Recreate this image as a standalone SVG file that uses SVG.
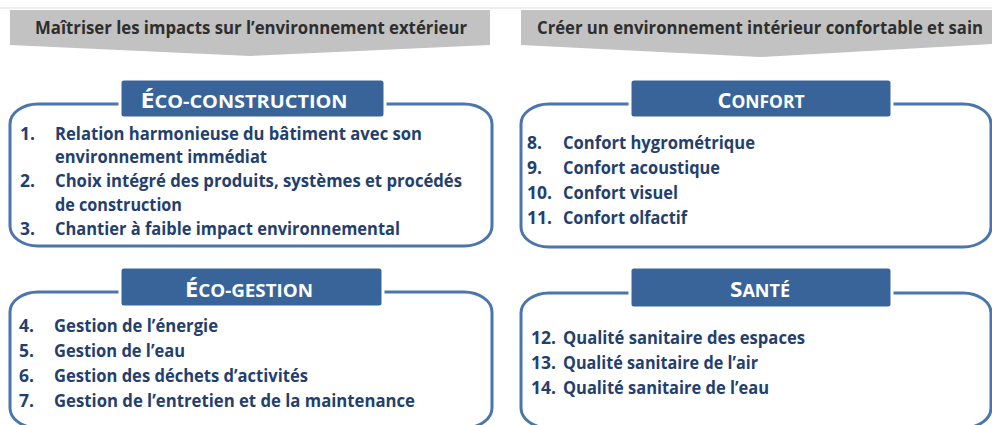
<svg xmlns="http://www.w3.org/2000/svg" width="992" height="425" viewBox="0 0 992 425">
<style>
.banner{fill:#c2c2c2}
.btxt{font-family:"Open Sans","Liberation Sans",sans-serif;font-weight:700;font-size:17px;fill:#2e2e2e}
.box{fill:#ffffff;stroke:#4a75ad;stroke-width:3}
.tbox{fill:#38649a;stroke:#ffffff;stroke-width:3}
.ttl{font-family:"Open Sans","Liberation Sans",sans-serif;font-weight:700;fill:#ffffff;text-anchor:middle}
.big{font-size:22px}
.sm{font-size:17.5px}
.it{font-family:"Open Sans","Liberation Sans",sans-serif;font-weight:700;font-size:17.5px;fill:#243f6e}
</style>
<rect x="0" y="0" width="992" height="425" fill="#ffffff"/>
<rect x="0" y="7" width="992" height="2" fill="#efefef"/>

<g id="banner-exterieur">
<polygon class="banner" points="10,10 490,10 490,45 250,56 10,45"/>
<text class="btxt" x="35" y="34" textLength="432" lengthAdjust="spacingAndGlyphs">Maîtriser les impacts sur l’environnement extérieur</text>
</g>

<g id="banner-interieur">
<polygon class="banner" points="521,10 992,10 992,44 760,57 521,45"/>
<text class="btxt" x="537" y="34" textLength="446" lengthAdjust="spacingAndGlyphs">Créer un environnement intérieur confortable et sain</text>
</g>

<g id="eco-construction">
<rect class="box" x="10" y="104" width="482" height="142" rx="28" ry="20"/>
<rect class="tbox" x="120" y="79" width="265" height="39" rx="4"/>
<text class="ttl" x="244" y="108" textLength="207" lengthAdjust="spacingAndGlyphs"><tspan class="big">É</tspan><tspan class="sm">CO-CONSTRUCTION</tspan></text>
<text class="it" x="20" y="140">1.</text>
<text class="it" x="55" y="140" textLength="367" lengthAdjust="spacingAndGlyphs">Relation harmonieuse du bâtiment avec son</text>
<text class="it" x="55" y="163" textLength="212" lengthAdjust="spacingAndGlyphs">environnement immédiat</text>
<text class="it" x="20" y="187">2.</text>
<text class="it" x="55" y="187" textLength="407" lengthAdjust="spacingAndGlyphs">Choix intégré des produits, systèmes et procédés</text>
<text class="it" x="55" y="211" textLength="127" lengthAdjust="spacingAndGlyphs">de construction</text>
<text class="it" x="20" y="235">3.</text>
<text class="it" x="55" y="235" textLength="345" lengthAdjust="spacingAndGlyphs">Chantier à faible impact environnemental</text>
</g>

<g id="eco-gestion">
<rect class="box" x="10" y="292" width="482" height="136" rx="28" ry="20"/>
<rect class="tbox" x="120" y="267" width="263" height="40" rx="4"/>
<text class="ttl" x="249" y="297" textLength="128" lengthAdjust="spacingAndGlyphs"><tspan class="big">É</tspan><tspan class="sm">CO-GESTION</tspan></text>
<text class="it" x="19" y="332">4.</text>
<text class="it" x="54" y="332" textLength="164" lengthAdjust="spacingAndGlyphs">Gestion de l’énergie</text>
<text class="it" x="19" y="357">5.</text>
<text class="it" x="54" y="357" textLength="131" lengthAdjust="spacingAndGlyphs">Gestion de l’eau</text>
<text class="it" x="19" y="382">6.</text>
<text class="it" x="54" y="382" textLength="254" lengthAdjust="spacingAndGlyphs">Gestion des déchets d’activités</text>
<text class="it" x="19" y="407">7.</text>
<text class="it" x="54" y="407" textLength="361" lengthAdjust="spacingAndGlyphs">Gestion de l’entretien et de la maintenance</text>
</g>

<g id="confort">
<rect class="box" x="521" y="104" width="470" height="143" rx="28" ry="20"/>
<rect class="tbox" x="630" y="79" width="262" height="39" rx="4"/>
<text class="ttl" x="761" y="108" textLength="87" lengthAdjust="spacingAndGlyphs"><tspan class="big">C</tspan><tspan class="sm">ONFORT</tspan></text>
<text class="it" x="527" y="149">8.</text>
<text class="it" x="563" y="149" textLength="192" lengthAdjust="spacingAndGlyphs">Confort hygrométrique</text>
<text class="it" x="527" y="174">9.</text>
<text class="it" x="563" y="174" textLength="157" lengthAdjust="spacingAndGlyphs">Confort acoustique</text>
<text class="it" x="527" y="199">10.</text>
<text class="it" x="563" y="199" textLength="115" lengthAdjust="spacingAndGlyphs">Confort visuel</text>
<text class="it" x="527" y="224">11.</text>
<text class="it" x="563" y="224" textLength="124" lengthAdjust="spacingAndGlyphs">Confort olfactif</text>
</g>

<g id="sante">
<rect class="box" x="521" y="293" width="470" height="135" rx="28" ry="20"/>
<rect class="tbox" x="630" y="267" width="262" height="41" rx="4"/>
<text class="ttl" x="760" y="297" textLength="60" lengthAdjust="spacingAndGlyphs"><tspan class="big">S</tspan><tspan class="sm">ANTÉ</tspan></text>
<text class="it" x="531" y="344">12.</text>
<text class="it" x="563" y="344" textLength="242" lengthAdjust="spacingAndGlyphs">Qualité sanitaire des espaces</text>
<text class="it" x="531" y="369">13.</text>
<text class="it" x="563" y="369" textLength="195" lengthAdjust="spacingAndGlyphs">Qualité sanitaire de l’air</text>
<text class="it" x="531" y="394">14.</text>
<text class="it" x="563" y="394" textLength="206" lengthAdjust="spacingAndGlyphs">Qualité sanitaire de l’eau</text>
</g>
</svg>
